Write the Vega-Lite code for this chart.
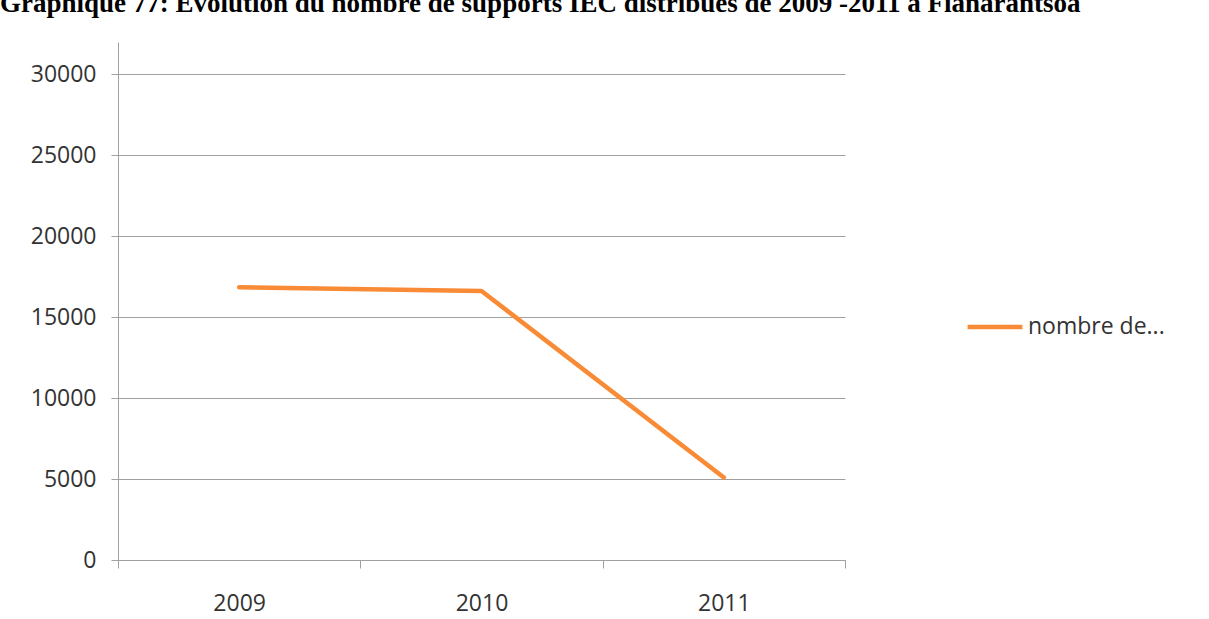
{
  "$schema": "https://vega.github.io/schema/vega-lite/v6.json",
  "width": 727,
  "height": 518,
  "autosize": {"type": "none"},
  "padding": {"left": 118, "top": 42, "right": 364, "bottom": 59},
  "background": "white",
  "title": {
    "text": "Graphique 77: Evolution du nombre de supports IEC distribués de 2009 -2011 à Fianarantsoa",
    "anchor": "start",
    "frame": "group",
    "dx": -118,
    "dy": 25,
    "baseline": "alphabetic",
    "offset": 28,
    "font": "Liberation Serif",
    "fontWeight": "bold",
    "fontSize": 27,
    "color": "black"
  },
  "data": {
    "values": [
      {"annee": "2009", "serie": "nombre de...", "valeur": 16850},
      {"annee": "2010", "serie": "nombre de...", "valeur": 16620},
      {"annee": "2011", "serie": "nombre de...", "valeur": 5100}
    ]
  },
  "mark": {"type": "line", "strokeWidth": 4.5, "strokeCap": "round", "strokeJoin": "round"},
  "encoding": {
    "x": {
      "field": "annee",
      "type": "ordinal",
      "bandPosition": 0.5,
      "scale": {"type": "band", "paddingInner": 0, "paddingOuter": 0},
      "axis": {
        "title": null,
        "labelAngle": 0,
        "tickBand": "extent",
        "tickSize": 8,
        "tickColor": "#A0A0A0",
        "domainColor": "#A0A0A0",
        "grid": false,
        "labelFont": "Open Sans",
        "labelFontSize": 23,
        "labelColor": "#333333",
        "labelPadding": 24
      }
    },
    "y": {
      "field": "valeur",
      "type": "quantitative",
      "scale": {"domain": [0, 32000], "nice": false},
      "axis": {
        "title": null,
        "values": [0, 5000, 10000, 15000, 20000, 25000, 30000],
        "format": "d",
        "tickSize": 7,
        "tickColor": "#A0A0A0",
        "domainColor": "#A0A0A0",
        "gridColor": "#A0A0A0",
        "gridWidth": 1,
        "labelFont": "Open Sans",
        "labelFontSize": 23,
        "labelColor": "#333333",
        "labelPadding": 15
      }
    },
    "color": {
      "field": "serie",
      "type": "nominal",
      "scale": {"range": ["#F98B36"]},
      "legend": {
        "title": null,
        "orient": "none",
        "legendX": 847,
        "legendY": 255,
        "symbolType": "stroke",
        "symbolSize": 3000,
        "symbolStrokeWidth": 4.5,
        "labelFont": "Open Sans",
        "labelFontSize": 23,
        "labelColor": "#333333",
        "labelOffset": 3,
        "labelLimit": 300
      }
    }
  },
  "config": {
    "view": {"stroke": null}
  }
}
